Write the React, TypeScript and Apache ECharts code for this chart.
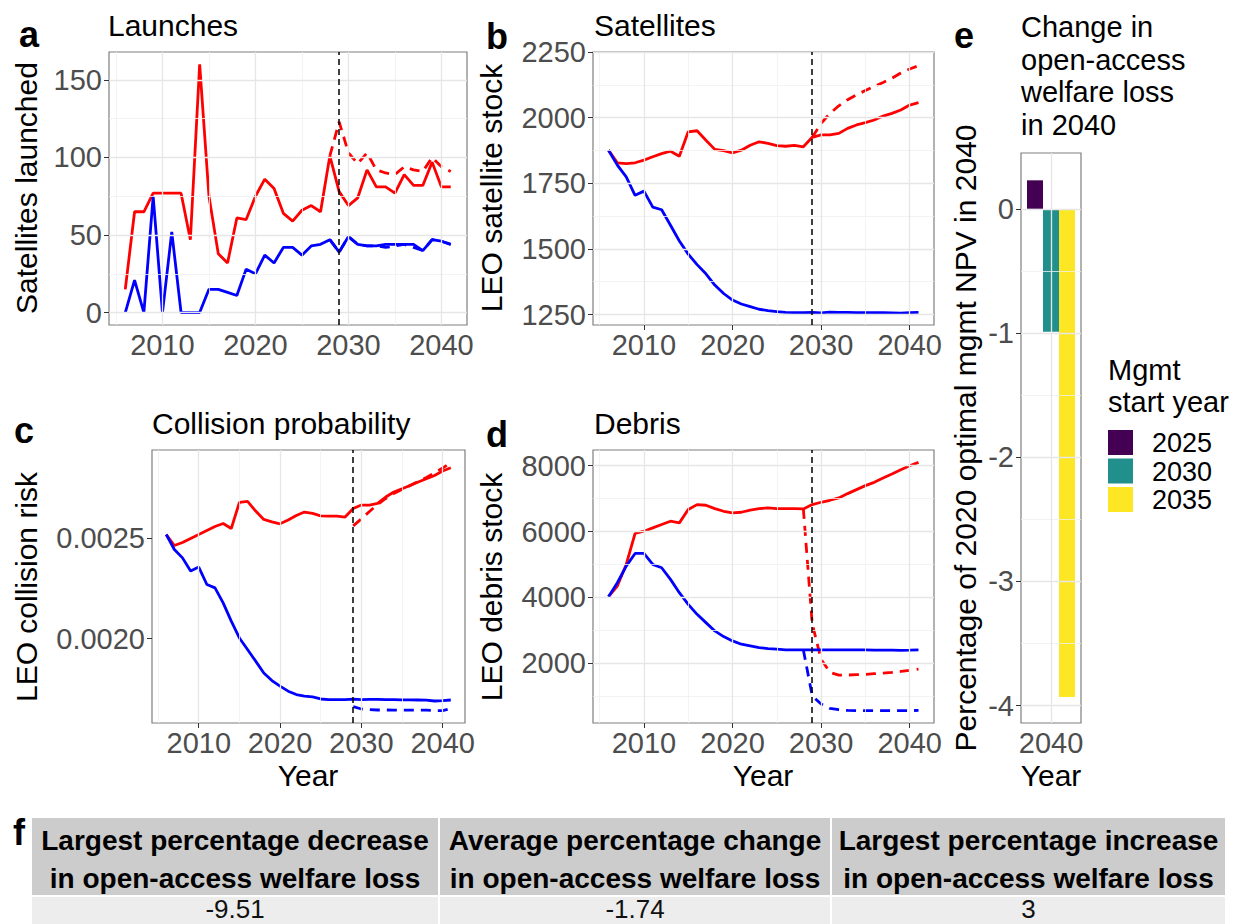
import React, { useEffect, useRef } from "react";
import * as echarts from "echarts";

// ---------- data ----------
const years = [2006, 2007, 2008, 2009, 2010, 2011, 2012, 2013, 2014, 2015, 2016, 2017, 2018, 2019, 2020, 2021, 2022, 2023, 2024, 2025, 2026, 2027, 2028, 2029, 2030, 2031, 2032, 2033, 2034, 2035, 2036, 2037, 2038, 2039, 2040, 2041];
const policyYear = 2029;

// a: Launches
const launchesOpen = [15, 65, 65, 77, 77, 77, 77, 47, 160, 75, 38, 32, 61, 60, 75, 86, 80, 64, 59, 66, 69, 65, 101, 78, 69, 74, 92, 81, 81, 77, 89, 82, 82, 97, 81, 81];
const launchesOpenAltStart = 2028;
const launchesOpenAlt = [101, 123, 103, 96, 103, 92, 90, 89, 94, 92, 91, 100, 94, 91];
const launchesOpt = [0, 21, 0, 75, 0, 52, 0, 0, 0, 15, 15, 13, 11, 28, 25, 37, 32, 42, 42, 37, 43, 44, 47, 39, 49, 44, 43, 43, 44, 44, 44, 44, 40, 47, 46, 44];
const launchesOptAltStart = 2028;
const launchesOptAlt = [47, 39, 49, 44, 43, 43, 42, 43, 44, 42, 40, 47, 46, 44];

// b: Satellites
const satsOpen = [1876, 1828, 1825, 1828, 1838, 1851, 1863, 1872, 1853, 1946, 1950, 1914, 1879, 1874, 1866, 1876, 1895, 1908, 1902, 1893, 1891, 1894, 1889, 1925, 1934, 1934, 1940, 1959, 1972, 1981, 1991, 2006, 2016, 2029, 2048, 2057];
const satsOpenAltStart = 2029;
const satsOpenAlt = [1925, 1978, 2016, 2045, 2068, 2087, 2103, 2119, 2134, 2150, 2170, 2185, 2198];
const satsOpt = [1876, 1819, 1774, 1704, 1720, 1659, 1649, 1590, 1530, 1480, 1440, 1405, 1362, 1330, 1305, 1290, 1280, 1270, 1265, 1261, 1258, 1257, 1257, 1258, 1256, 1259, 1258, 1258, 1257, 1257, 1257, 1257, 1256, 1255, 1257, 1258];

// c: Collision probability
const collOpen = [0.00252, 0.002465, 0.00248, 0.0025, 0.00252, 0.00254, 0.00256, 0.002575, 0.00255, 0.00268, 0.002685, 0.002637, 0.002595, 0.002583, 0.002573, 0.002592, 0.002615, 0.002632, 0.002625, 0.002613, 0.002612, 0.002612, 0.002607, 0.00265, 0.002667, 0.002667, 0.002675, 0.002707, 0.002732, 0.002748, 0.002765, 0.002782, 0.002798, 0.002815, 0.002837, 0.002853];
const collOpenAltStart = 2029;
const collOpenAlt = [0.002563, 0.002598, 0.002635, 0.00267, 0.0027, 0.002725, 0.002745, 0.002765, 0.002785, 0.002805, 0.002828, 0.002852, 0.002878];
const collOpt = [0.00252, 0.002445, 0.002403, 0.002337, 0.002357, 0.00227, 0.002253, 0.002178, 0.002087, 0.002003, 0.001945, 0.001887, 0.001828, 0.00179, 0.001762, 0.001737, 0.00172, 0.001712, 0.001708, 0.001698, 0.001695, 0.001695, 0.001695, 0.001697, 0.001695, 0.001696, 0.001696, 0.001695, 0.001695, 0.001694, 0.001694, 0.001693, 0.001692, 0.001688, 0.00169, 0.001693];
const collOptAltStart = 2029;
const collOptAlt = [0.00166, 0.001648, 0.001645, 0.001643, 0.001643, 0.001642, 0.001642, 0.001642, 0.001642, 0.001642, 0.00164, 0.00164, 0.00165];

// d: Debris
const debrisOpen = [4020, 4344, 5000, 5940, 6010, 6111, 6212, 6313, 6263, 6667, 6818, 6798, 6697, 6616, 6566, 6586, 6647, 6697, 6717, 6697, 6697, 6697, 6687, 6818, 6889, 6950, 7020, 7152, 7273, 7394, 7495, 7626, 7747, 7879, 8000, 8100];
const debrisOpenAltStart = 2028;
const debrisOpenAlt = [6687, 3200, 2120, 1720, 1640, 1640, 1650, 1660, 1680, 1700, 1720, 1750, 1780, 1820];
const debrisOpt = [4020, 4444, 4950, 5334, 5334, 5000, 4900, 4546, 4142, 3788, 3485, 3233, 2980, 2808, 2677, 2576, 2526, 2475, 2445, 2425, 2405, 2405, 2405, 2405, 2405, 2405, 2405, 2405, 2405, 2405, 2400, 2400, 2395, 2390, 2395, 2405];
const debrisOptAltStart = 2028;
const debrisOptAlt = [2405, 1011, 758, 627, 586, 565, 560, 560, 560, 560, 560, 560, 560, 565];

// e: change in welfare loss
const barCategory = ["2040"];
const mgmtStartYears = ["2025", "2030", "2035"];
const welfareChange = [0.23, -0.99, -3.93];
const mgmtColors = ["#440154", "#21908C", "#FDE725"];

// f: table
const tableHeader1 = ["Largest percentage decrease", "Average percentage change", "Largest percentage increase"];
const tableHeader2 = ["in open-access welfare loss", "in open-access welfare loss", "in open-access welfare loss"];
const tableValues = ["-9.51", "-1.74", "3"];

// ticks
const xTicks = [2010, 2020, 2030, 2040];
const xMinor = [2005, 2015, 2025, 2035];
const yTicksA = [0, 50, 100, 150];
const yMinorA = [25, 75, 125];
const yTicksB = [1250, 1500, 1750, 2000, 2250];
const yMinorB = [1375, 1625, 1875, 2125];
const yTicksC = [0.002, 0.0025];
const yMinorC = [0.00175, 0.00225, 0.00275];
const yTicksD = [2000, 4000, 6000, 8000];
const yMinorD = [1000, 3000, 5000, 7000];
const yTicksE = [-4, -3, -2, -1, 0];
const yMinorE = [-3.5, -2.5, -1.5, -0.5];

// ---------- helpers ----------
const FONT = '"Liberation Sans", Arial, sans-serif';
const RED = "#ff0000";
const BLUE = "#0000ff";
const GRIDC = "#e6e6e6";

const full = (vals: number[]) => vals.map((v, i) => [years[i], v]);
const from = (vals: number[], start: number) => {
  const s = years.indexOf(start);
  return vals.map((v, i) => [years[s + i], v]);
};

function lineS(idx: number, data: any[], color: string, dashed: boolean) {
  return {
    type: "line",
    xAxisIndex: idx,
    yAxisIndex: idx,
    data,
    symbol: "none",
    showSymbol: false,
    silent: true,
    z: dashed ? 3 : 4,
    lineStyle: { color, width: 2.8, type: dashed ? [10, 7] : "solid", cap: "butt" },
  };
}

function gridLinesS(idx: number, xMaj: any[], xMin: any[], yMaj: number[], yMin: number[]) {
  const maj = { color: GRIDC, width: 1.3, type: "solid" };
  const min = { color: "#f0f0f0", width: 0.8, type: "solid" };
  return {
    type: "line",
    xAxisIndex: idx,
    yAxisIndex: idx,
    data: [],
    z: 1,
    silent: true,
    markLine: {
      silent: true,
      symbol: ["none", "none"],
      label: { show: false },
      animation: false,
      data: [
        ...xMin.map((v) => ({ xAxis: v, lineStyle: min })),
        ...yMin.map((v) => ({ yAxis: v, lineStyle: min })),
        ...xMaj.map((v) => ({ xAxis: v, lineStyle: maj })),
        ...yMaj.map((v) => ({ yAxis: v, lineStyle: maj })),
      ],
    },
  };
}

function vlineS(idx: number) {
  return {
    type: "line",
    xAxisIndex: idx,
    yAxisIndex: idx,
    data: [],
    z: 6,
    silent: true,
    markLine: {
      silent: true,
      symbol: ["none", "none"],
      label: { show: false },
      animation: false,
      data: [{ xAxis: policyYear, lineStyle: { color: "#000", width: 1.5, type: [6, 4] } }],
    },
  };
}

const tickLabel = { fontSize: 29, color: "#4d4d4d", fontFamily: FONT };

function xAx(idx: number) {
  return {
    type: "value",
    gridIndex: idx,
    min: 2004.25,
    max: 2042.75,
    axisLine: { show: false },
    splitLine: { show: false },
    axisTick: { show: true, customValues: xTicks, length: 5, lineStyle: { color: "#333", width: 1 } },
    axisLabel: { ...tickLabel, customValues: xTicks, margin: 5, formatter: (v: number) => String(v) },
  };
}

function yAx(idx: number, min: number, max: number, ticks: number[], fmt?: (v: number) => string) {
  return {
    type: "value",
    gridIndex: idx,
    min,
    max,
    axisLine: { show: false },
    splitLine: { show: false },
    axisTick: { show: true, customValues: ticks, length: 5, lineStyle: { color: "#333", width: 1 } },
    axisLabel: { ...tickLabel, customValues: ticks, margin: 7, formatter: fmt || ((v: number) => String(v)) },
  };
}

function txt(text: string, x: number, y: number, o: any = {}) {
  return {
    type: "text",
    x,
    y,
    rotation: o.rot || 0,
    silent: true,
    z: 100,
    style: {
      text,
      fill: o.color || "#000",
      fontSize: o.size || 29,
      fontWeight: o.weight || "normal",
      fontFamily: FONT,
      textAlign: o.align || "left",
      textVerticalAlign: "middle",
    },
  };
}

function rect(x: number, y: number, w: number, h: number, fill: string) {
  return { type: "rect", shape: { x, y, width: w, height: h }, style: { fill }, silent: true, z: 50 };
}

export default function App() {
  const ref = useRef<HTMLDivElement>(null);

  useEffect(() => {
    if (!ref.current) return;
    const chart = echarts.init(ref.current, null, { renderer: "svg" });

    const gridBase = { show: true, borderColor: "#7f7f7f", borderWidth: 1.2, backgroundColor: "#fff", containLabel: false };
    const grids = [
      { left: 109, top: 52, width: 358, height: 273 },
      { left: 593, top: 52, width: 341, height: 273 },
      { left: 152, top: 450, width: 313, height: 273 },
      { left: 593, top: 450, width: 341, height: 273 },
      { left: 1021, top: 153, width: 60, height: 570 },
    ].map((g) => ({ ...gridBase, ...g }));

    const xAxes: any[] = [xAx(0), xAx(1), xAx(2), xAx(3)];
    xAxes.push({
      type: "category",
      gridIndex: 4,
      data: barCategory,
      axisLine: { show: false },
      splitLine: { show: false },
      axisTick: { show: true, alignWithLabel: true, length: 5, lineStyle: { color: "#333", width: 1 } },
      axisLabel: { ...tickLabel, margin: 5 },
    });

    const yAxes = [
      yAx(0, -8, 168, yTicksA),
      yAx(1, 1210, 2250, yTicksB),
      yAx(2, 0.001578, 0.002942, yTicksC, (v: number) => v.toFixed(4)),
      yAx(3, 183, 8477, yTicksD),
      yAx(4, -4.14, 0.45, yTicksE),
    ];

    const series: any[] = [
      gridLinesS(0, xTicks, xMinor, yTicksA, yMinorA),
      gridLinesS(1, xTicks, xMinor, yTicksB, yMinorB),
      gridLinesS(2, xTicks, xMinor, yTicksC, yMinorC),
      gridLinesS(3, xTicks, xMinor, yTicksD, yMinorD),
      gridLinesS(4, barCategory, [], yTicksE, yMinorE),
      // a
      lineS(0, full(launchesOpen), RED, false),
      lineS(0, from(launchesOpenAlt, launchesOpenAltStart), RED, true),
      lineS(0, full(launchesOpt), BLUE, false),
      lineS(0, from(launchesOptAlt, launchesOptAltStart), BLUE, true),
      // b
      lineS(1, full(satsOpen), RED, false),
      lineS(1, from(satsOpenAlt, satsOpenAltStart), RED, true),
      lineS(1, full(satsOpt), BLUE, false),
      // c
      lineS(2, full(collOpen), RED, false),
      lineS(2, from(collOpenAlt, collOpenAltStart), RED, true),
      lineS(2, full(collOpt), BLUE, false),
      lineS(2, from(collOptAlt, collOptAltStart), BLUE, true),
      // d
      lineS(3, full(debrisOpen), RED, false),
      lineS(3, from(debrisOpenAlt, debrisOpenAltStart), RED, true),
      lineS(3, full(debrisOpt), BLUE, false),
      lineS(3, from(debrisOptAlt, debrisOptAltStart), BLUE, true),
      vlineS(0),
      vlineS(1),
      vlineS(2),
      vlineS(3),
    ];

    mgmtStartYears.forEach((name, i) => {
      series.push({
        type: "bar",
        name,
        xAxisIndex: 4,
        yAxisIndex: 4,
        data: [welfareChange[i]],
        barWidth: 16,
        barGap: "0%",
        itemStyle: { color: mgmtColors[i] },
        silent: true,
        z: 3,
      });
    });

    const g: any[] = [];
    // panel letters
    g.push(txt("a", 29, 34, { size: 36, weight: "bold", align: "center" }));
    g.push(txt("b", 497, 36, { size: 36, weight: "bold", align: "center" }));
    g.push(txt("c", 24, 430, { size: 36, weight: "bold", align: "center" }));
    g.push(txt("d", 497, 434, { size: 36, weight: "bold", align: "center" }));
    g.push(txt("e", 964, 35, { size: 36, weight: "bold", align: "center" }));
    g.push(txt("f", 19, 832, { size: 36, weight: "bold", align: "center" }));
    // titles
    g.push(txt("Launches", 108, 25, { size: 30 }));
    g.push(txt("Satellites", 594, 25, { size: 30 }));
    g.push(txt("Collision probability", 152, 423, { size: 30 }));
    g.push(txt("Debris", 594, 423, { size: 30 }));
    ["Change in", "open-access", "welfare loss", "in 2040"].forEach((s, i) =>
      g.push(txt(s, 1021, 27 + i * 32.5, { size: 29 }))
    );
    // axis titles
    g.push(txt("Satellites launched", 26, 188, { size: 30, rot: Math.PI / 2, align: "center" }));
    g.push(txt("LEO satellite stock", 491, 188, { size: 30, rot: Math.PI / 2, align: "center" }));
    g.push(txt("LEO collision risk", 26, 587, { size: 30, rot: Math.PI / 2, align: "center" }));
    g.push(txt("LEO debris stock", 491, 587, { size: 30, rot: Math.PI / 2, align: "center" }));
    g.push(txt("Percentage of 2020 optimal mgmt NPV in 2040", 965, 438, { size: 30, rot: Math.PI / 2, align: "center" }));
    g.push(txt("Year", 308, 775, { size: 30, align: "center" }));
    g.push(txt("Year", 763, 775, { size: 30, align: "center" }));
    g.push(txt("Year", 1051, 775, { size: 30, align: "center" }));
    // legend
    g.push(txt("Mgmt", 1108, 370, { size: 29 }));
    g.push(txt("start year", 1108, 402, { size: 29 }));
    mgmtStartYears.forEach((s, i) => {
      g.push(rect(1108, 430 + i * 28.5, 25, 25, mgmtColors[i]));
      g.push(txt(s, 1152, 443 + i * 28.5, { size: 27 }));
    });
    // table
    const colX = [32, 440, 832];
    const colW = [406, 390, 393];
    colX.forEach((x, i) => {
      g.push(rect(x, 818, colW[i], 77, "#cccccc"));
      g.push(rect(x, 897, colW[i], 30, "#ededed"));
      const cx = x + colW[i] / 2;
      g.push(txt(tableHeader1[i], cx, 840, { size: 28, weight: "bold", align: "center", color: "#000" }));
      g.push(txt(tableHeader2[i], cx, 878, { size: 28, weight: "bold", align: "center", color: "#000" }));
      g.push(txt(tableValues[i], cx, 909, { size: 26, align: "center", color: "#111" }));
    });

    chart.setOption({
      animation: false,
      backgroundColor: "#ffffff",
      grid: grids,
      xAxis: xAxes,
      yAxis: yAxes,
      series,
      graphic: { elements: g },
    });

    return () => chart.dispose();
  }, []);

  return <div ref={ref} style={{ position: "absolute", left: 0, top: 0, width: 1249, height: 924, background: "#fff" }} />;
}
